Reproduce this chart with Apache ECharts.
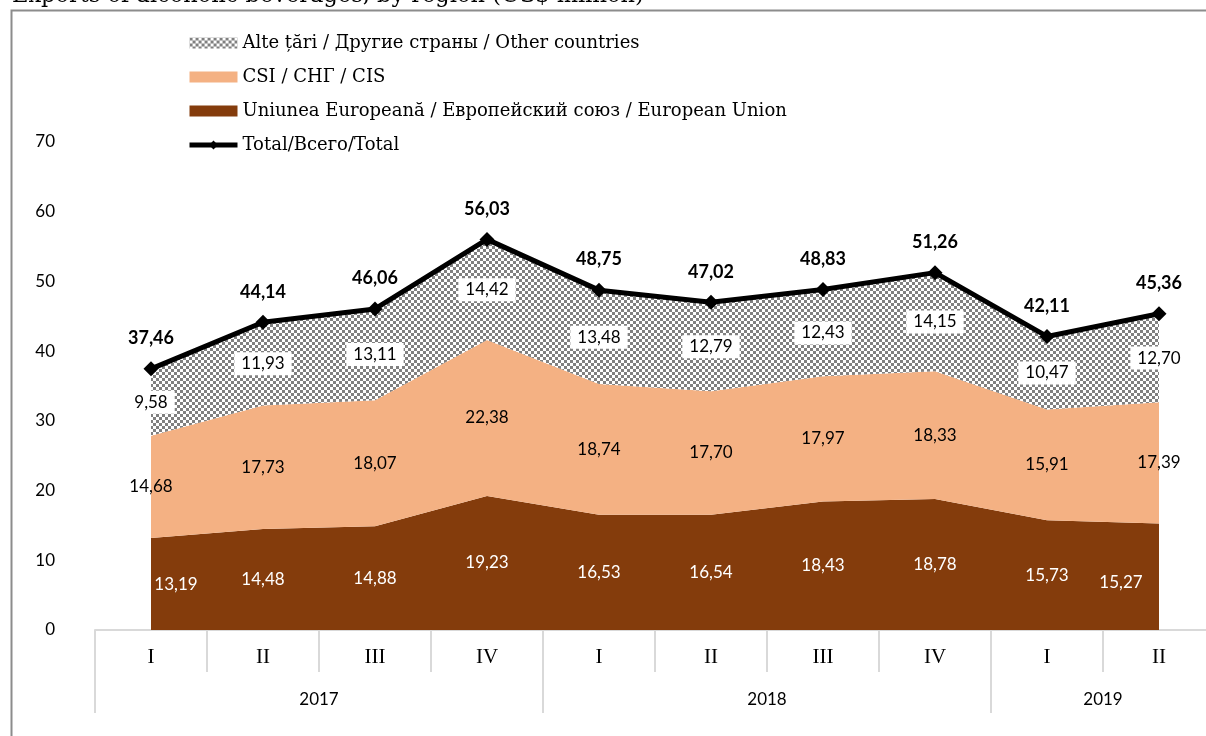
<!DOCTYPE html>
<html>
<head>
<meta charset="utf-8">
<script src="https://cdn.jsdelivr.net/npm/echarts@6.0.0/dist/echarts.min.js"></script>
<style>
  html, body { margin: 0; padding: 0; background: #fff; }
  #chart { width: 1206px; height: 736px; }
</style>
</head>
<body>
<div id="chart"></div>
<script>
const quarters = ['I', 'II', 'III', 'IV', 'I', 'II', 'III', 'IV', 'I', 'II'];
const years = ['2017', '2018', '2019'];
const quartersPerYear = [4, 4, 2];

const euValues = [13.19, 14.48, 14.88, 19.23, 16.53, 16.54, 18.43, 18.78, 15.73, 15.27];
const cisValues = [14.68, 17.73, 18.07, 22.38, 18.74, 17.70, 17.97, 18.33, 15.91, 17.39];
const otherValues = [9.58, 11.93, 13.11, 14.42, 13.48, 12.79, 12.43, 14.15, 10.47, 12.70];
const totalValues = [37.46, 44.14, 46.06, 56.03, 48.75, 47.02, 48.83, 51.26, 42.11, 45.36];

const yTicks = [0, 10, 20, 30, 40, 50, 60, 70];

const names = {
  other: 'Alte țări / Другие страны / Other countries',
  cis: 'CSI / СНГ / CIS',
  eu: 'Uniunea Europeană / Европейский союз / European Union',
  total: 'Total/Всего/Total'
};

const SANS = 'Lato';
const SERIF = 'Liberation Serif';
const WIDE_SERIF = 'DejaVu Serif';
const EU_COLOR = '#843c0c';
const CIS_COLOR = '#f4b183';

// checker pattern for "other countries"
const pat = document.createElement('canvas');
pat.width = 6; pat.height = 6;
const pctx = pat.getContext('2d');
pctx.fillStyle = '#ffffff'; pctx.fillRect(0, 0, 6, 6);
pctx.fillStyle = '#808080'; pctx.fillRect(0, 0, 3, 3); pctx.fillRect(3, 3, 3, 3);
const otherFill = { image: pat, repeat: 'repeat' };

const fmt = v => v.toFixed(2).replace('.', ',');

// label anchors in the middle of each stacked band
const euMid = euValues.map((v, i) => [i, v / 2]);
const cisMid = cisValues.map((v, i) => [i, euValues[i] + v / 2]);
const otherMid = otherValues.map((v, i) => [i, euValues[i] + cisValues[i] + v / 2]);

// year boundaries / centres for the second axis row
const yearBounds = [0];
quartersPerYear.forEach(n => yearBounds.push(yearBounds[yearBounds.length - 1] + n));
const yearCenters = years.map((y, i) => (yearBounds[i] + yearBounds[i + 1]) / 2);

function areaSeries(name, data, fill) {
  return {
    name, type: 'line', stack: 'total', data,
    symbol: 'none', lineStyle: { width: 0 },
    itemStyle: { color: fill },
    areaStyle: { color: fill, opacity: 1 },
    silent: true, z: 2
  };
}

function labelSeries(points, values, label, extra) {
  return {
    type: 'scatter', data: points.map((p, i) => {
      const item = { value: p };
      if (extra && extra[i]) item.label = extra[i];
      return item;
    }),
    symbolSize: 2, itemStyle: { color: 'rgba(0,0,0,0)', opacity: 1 }, silent: true, z: 5,
    label: Object.assign({
      show: true, position: 'inside', fontFamily: SANS, fontSize: 17, opacity: 1,
      formatter: p => fmt(values[p.dataIndex])
    }, label)
  };
}

const chart = echarts.init(document.getElementById('chart'));

chart.setOption({
  animation: false,
  backgroundColor: '#fff',
  graphic: [
    {
      type: 'rect', z: -1, silent: true,
      shape: { x: 11.5, y: 10.5, width: 1400, height: 1000 },
      style: { fill: 'none', stroke: '#8c8c8c', lineWidth: 2 }
    },
    {
      type: 'text', x: 12, y: 8, silent: true,
      style: {
        text: 'Exports of alcoholic beverages, by region (US$ million)',
        fontFamily: WIDE_SERIF, fontSize: 22.5, fill: '#000', verticalAlign: 'bottom'
      }
    }
  ],
  legend: {
    orient: 'vertical', left: 182, top: 28,
    itemWidth: 48, itemHeight: 11, itemGap: 14,
    textStyle: { fontFamily: WIDE_SERIF, fontSize: 18, color: '#000', lineHeight: 20 },
    selectedMode: false,
    data: [
      { name: names.other, icon: 'rect', itemStyle: { color: otherFill, borderWidth: 0 } },
      { name: names.cis, icon: 'rect', itemStyle: { color: CIS_COLOR, borderWidth: 0 } },
      { name: names.eu, icon: 'rect', itemStyle: { color: EU_COLOR, borderWidth: 0 } },
      { name: names.total, lineStyle: { width: 5, color: '#000' } }
    ]
  },
  grid: { left: 95, right: -9, top: 142, bottom: 106, outerBoundsMode: 'none' },
  xAxis: [
    {
      type: 'category', data: quarters, boundaryGap: true,
      axisLine: { lineStyle: { color: '#d9d9d9', width: 2 } },
      axisTick: { show: true, interval: 0, length: 42, lineStyle: { color: '#d9d9d9', width: 2 } },
      axisLabel: { interval: 0, margin: 17, fontFamily: SERIF, fontSize: 21, color: '#000' }
    },
    {
      type: 'value', position: 'bottom', offset: 42,
      min: 0, max: quarters.length,
      axisLine: { show: false },
      splitLine: { show: false },
      axisTick: { show: true, length: 41, customValues: yearBounds, lineStyle: { color: '#d9d9d9', width: 2 } },
      axisLabel: {
        customValues: yearCenters, margin: 19, fontFamily: SANS, fontSize: 17, color: '#000',
        formatter: v => years[yearCenters.indexOf(v)]
      }
    }
  ],
  yAxis: {
    type: 'value', min: yTicks[0], max: yTicks[yTicks.length - 1], interval: 10,
    axisLine: { show: false }, axisTick: { show: false }, splitLine: { show: false },
    axisLabel: { margin: 40, fontFamily: SANS, fontSize: 17, color: '#000' }
  },
  series: [
    areaSeries(names.eu, euValues, EU_COLOR),
    areaSeries(names.cis, cisValues, CIS_COLOR),
    areaSeries(names.other, otherValues, otherFill),
    {
      name: names.total, type: 'line', data: totalValues,
      symbol: 'diamond', symbolSize: 15,
      lineStyle: { color: '#000', width: 5 },
      itemStyle: { color: '#000' },
      z: 6,
      label: {
        show: true, position: 'top', distance: 14,
        fontFamily: SANS, fontSize: 18, fontWeight: 'bold', color: '#000',
        formatter: p => fmt(p.value)
      }
    },
    labelSeries(euMid, euValues, { color: '#fff' },
      { 0: { offset: [25, 0] }, 9: { offset: [-38, 6] } }),
    labelSeries(cisMid, cisValues, { color: '#000' }),
    labelSeries(otherMid, otherValues, { color: '#000', backgroundColor: '#fff', padding: [3, 7] })
  ]
});
</script>
</body>
</html>
